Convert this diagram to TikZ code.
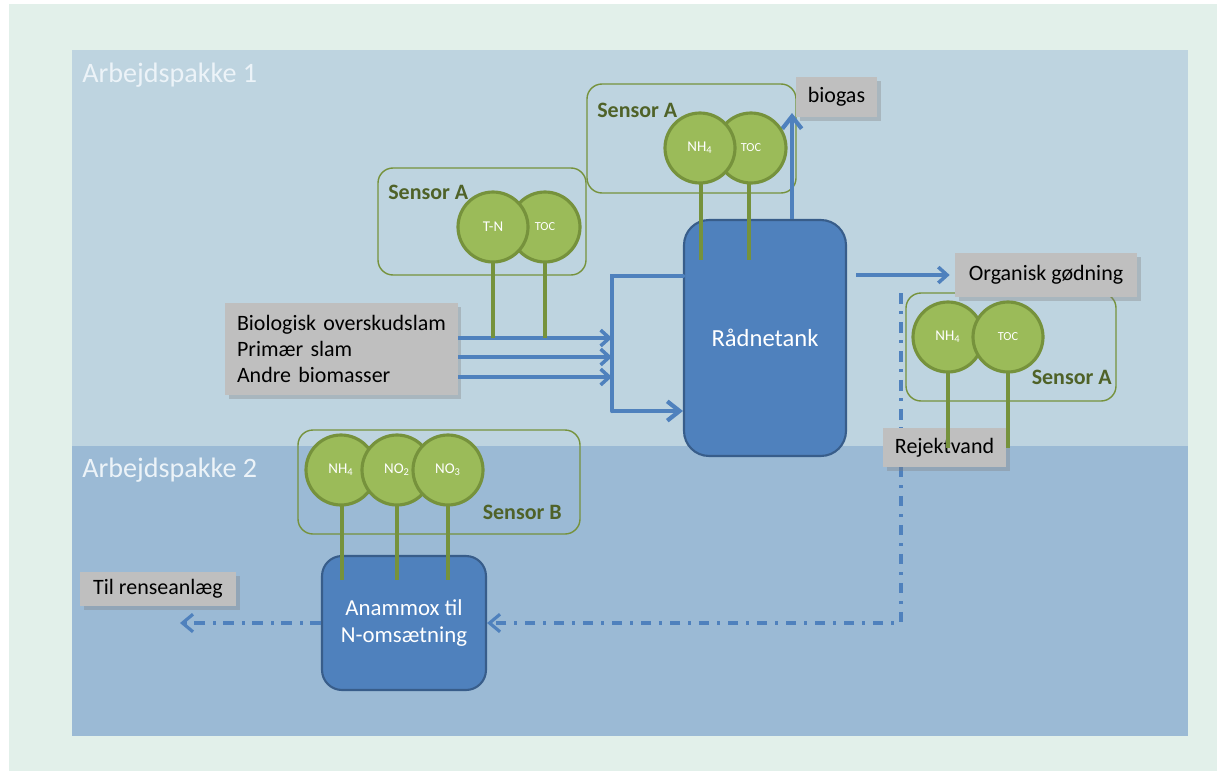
\documentclass[tikz,border=0pt]{standalone}
\usepackage{fontspec}
\setmainfont{Carlito}
\usetikzlibrary{arrows.meta,shadows}
\definecolor{bgout}{RGB}{226,240,234}
\definecolor{pakone}{RGB}{190,212,224}
\definecolor{paktwo}{RGB}{155,186,213}
\definecolor{paktext}{RGB}{236,243,248}
\definecolor{tankblue}{RGB}{79,129,189}
\definecolor{tankedge}{RGB}{56,93,138}
\definecolor{sensfill}{RGB}{155,187,89}
\definecolor{sensedge}{RGB}{118,146,60}
\definecolor{senstext}{RGB}{79,98,40}
\definecolor{labgray}{RGB}{191,191,191}
\newcommand{\txt}{\fontsize{12.5}{15}\selectfont}
\newcommand{\subn}[1]{\textsubscript{#1}}

\begin{document}
\begin{tikzpicture}[x=0.02cm,y=-0.02cm,
   tank/.style={draw=tankedge,line width=1.2pt,fill=tankblue,rounded corners=0.5cm,
     text=white,align=center,font=\fontsize{14}{17}\selectfont},
   graybox/.style={fill=labgray,inner sep=0pt,font=\txt,
     drop shadow={shadow xshift=2pt,shadow yshift=-2pt,opacity=0.35}},
   sensbox/.style={draw=sensedge,line width=0.8pt,rounded corners=0.3cm},
   senslabel/.style={text=senstext,inner sep=0pt,font=\fontsize{12.5}{15}\bfseries\selectfont},
   paklabel/.style={text=paktext,inner sep=0pt,font=\fontsize{16}{19}\selectfont},
   probe/.style={circle,draw=sensedge,line width=1.8pt,fill=sensfill,minimum size=1.4cm,
     inner sep=0pt,text=white,font=\fontsize{8.5}{9}\selectfont},
   small/.style={font=\fontsize{7}{8}\selectfont},
   wire/.style={sensedge,line width=1.8pt},
   flow/.style={tankblue,line width=2pt,-{Straight Barb[length=5pt,width=9pt]}},
   bigflow/.style={tankblue,line width=2.4pt,-{Straight Barb[length=7pt,width=11pt]}},
   backflow/.style={tankblue,line width=1.8pt,dash pattern=on 6pt off 4.5pt on 1.5pt off 4.5pt,
     -{Straight Barb[length=6pt,width=10pt]}}]
   \useasboundingbox (0,0) rectangle (1217,771);
   \fill[white] (0,0) rectangle (1217,771);
   \fill[bgout] (9,4) rectangle (1217,771);
   \fill[pakone] (72,50) rectangle (1188,446);
   \fill[paktwo] (72,446) rectangle (1188,736);
   \node[paklabel,anchor=west] (pak1) at (82,75) {Arbejdspakke 1};
   \node[paklabel,anchor=west] (pak2) at (82,470) {Arbejdspakke 2};

   % sensor frames
   \draw[sensbox] (378,168) rectangle (586,275);
   \draw[sensbox] (587,84) rectangle (796,193);
   \draw[sensbox] (906,293) rectangle (1116,401);
   \draw[sensbox] (298,430) rectangle (580,534);
   \node[senslabel,anchor=west] (sa1) at (388,192) {Sensor A};
   \node[senslabel,anchor=west] (sa2) at (597,110) {Sensor A};
   \node[senslabel,anchor=east] (sa3) at (1112,377) {Sensor A};
   \node[senslabel,anchor=east] (sb) at (562,512) {Sensor B};

   % tanks and labels
   \node[tank,minimum width=3.24cm,minimum height=4.72cm] (tank) at (765,338) {Rådnetank};
   \node[tank,minimum width=3.28cm,minimum height=2.68cm,rounded corners=0.4cm,
     font=\fontsize{13}{15.5}\selectfont] (anammox) at (404,623) {Anammox til\\N-omsætning};
   \node[graybox,minimum width=4.66cm,minimum height=1.84cm,inner xsep=0.24cm,
     text width=4.18cm,align=left] (inbox) at (341.5,349)
     {Biologisk overskudslam\\Primær slam\\Andre biomasser};
   \node[graybox,minimum width=1.62cm,minimum height=0.8cm] (biogas) at (836.5,97) {biogas};
   \node[graybox,minimum width=3.64cm,minimum height=0.88cm] (gods) at (1046,275) {Organisk gødning};
   \node[graybox,minimum width=3.12cm,minimum height=0.68cm] (rense) at (158,589) {Til renseanlæg};

   % return line from rejektvand
   \coordinate (rejtop) at (901,293);
   \coordinate (outlet) at (180,623);
   \draw[backflow] (rejtop) |- (anammox.east);
   \draw[backflow] (anammox.west) -- (outlet);
   \node[graybox,minimum width=2.46cm,minimum height=0.78cm] (rejekt) at (944.5,447.5) {Rejektvand};

   % flows into and out of the tank
   \coordinate (mixtop) at (612,276);
   \coordinate (mixbot) at (612,411);
   \foreach \yy in {338,357,377}
     \draw[flow] (inbox.east |- 0,\yy) -- (mixtop |- 0,\yy);
   \draw[tankblue,line width=2.4pt,line cap=round] (tank.west |- mixtop) -- (mixtop) -- (mixbot);
   \draw[bigflow] (mixbot) -- (tank.west |- mixbot);
   \draw[bigflow] (tank.north -| 792,0) -- (792,113);
   \draw[flow] ([xshift=0.18cm]tank.east |- gods.west) -- ([xshift=-0.1cm]gods.west);

   % sensor wires
   \foreach \xx in {493,545} \draw[wire] (\xx,262) -- (\xx,338);
   \foreach \xx in {701,749} \draw[wire] (\xx,183) -- (\xx,260);
   \foreach \xx in {948,1008} \draw[wire] (\xx,372) -- (\xx,448);
   \foreach \xx in {342,397,448} \draw[wire] (\xx,505) -- (\xx,580);

   % probes
   \node[probe,small] (tocone) at (545,227) {TOC};
   \node[probe] (tn) at (493,227) {T-N};
   \node[probe,small] (toctwo) at (751,148) {TOC};
   \node[probe] (nhtwo) at (700,148) {NH\subn{4}};
   \node[probe] (nhthree) at (948,337) {NH\subn{4}};
   \node[probe,small] (tocthree) at (1008,337) {TOC};
   \node[probe] (nhb) at (341,470) {NH\subn{4}};
   \node[probe] (notwo) at (397,470) {NO\subn{2}};
   \node[probe] (nothree) at (448,470) {NO\subn{3}};
\end{tikzpicture}
\end{document}
